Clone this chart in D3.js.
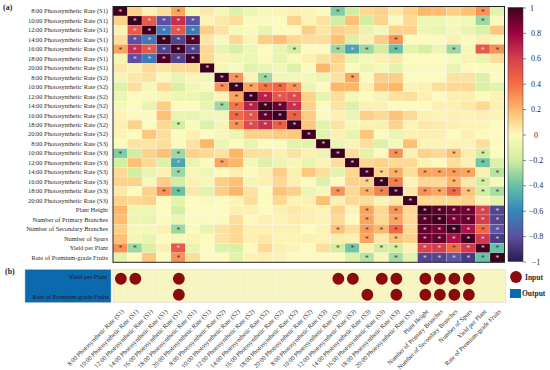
<!DOCTYPE html>
<html>

<head>
  <meta charset="utf-8" />
  <title>Correlation heatmap</title>
  <script src="https://d3js.org/d3.v7.min.js"></script>
  <style>
    body {
      margin: 0;
      background: #fff;
    }

    text {
      font-family: "Liberation Serif", serif;
      fill: #2a2a2a;
    }
  </style>
</head>

<body>
  <svg id="chart" width="550" height="370"></svg>
  <script>
    var traits = [
      "8:00 Photosynthetic Rate (S1)", "10:00 Photosynthetic Rate (S1)", "12:00 Photosynthetic Rate (S1)",
      "14:00 Photosynthetic Rate (S1)", "16:00 Photosynthetic Rate (S1)", "18:00 Photosynthetic Rate (S1)",
      "20:00 Photosynthetic Rate (S1)",
      "8:00 Photosynthetic Rate (S2)", "10:00 Photosynthetic Rate (S2)", "12:00 Photosynthetic Rate (S2)",
      "14:00 Photosynthetic Rate (S2)", "16:00 Photosynthetic Rate (S2)", "18:00 Photosynthetic Rate (S2)",
      "20:00 Photosynthetic Rate (S2)",
      "8:00 Photosynthetic Rate (S3)", "10:00 Photosynthetic Rate (S3)", "12:00 Photosynthetic Rate (S3)",
      "14:00 Photosynthetic Rate (S3)", "16:00 Photosynthetic Rate (S3)", "18:00 Photosynthetic Rate (S3)",
      "20:00 Photosynthetic Rate (S3)",
      "Plant Height", "Number of Primary Branches", "Number of Secondary Branches", "Number of Spurs",
      "Yield per Plant", "Rate of Premium-grade Fruits"
    ];

    // one row per trait
    var corr = [
      [1, .12, .03, .08, .25, -.05, .05, -.05, -.15, -.08, -.03, .02, .03, .02, 0, -.35, -.2, .1, .12, .05, .12, .2, .18, .13, .17, .3, -.12],
      [.12, 1, .48, -.8, .65, -.8, .02, .05, .08, 0, 0, 0, .12, .02, .07, -.2, .17, -.2, .12, 0, .1, -.07, -.07, -.03, -.05, -.3, 0],
      [.03, .48, 1, -.65, .5, -.65, .13, .07, -.04, -.02, -.1, 0, 0, .13, .06, .12, .1, -.1, -.03, .12, .12, -.07, -.1, -.03, -.1, -.17, .15],
      [.08, -.8, -.65, 1, -.85, .96, .06, -.02, .1, .02, .13, .17, .1, .08, .08, .17, -.15, .03, .13, .3, 0, 0, 0, .03, 0, .03, 0],
      [.25, .65, .5, -.85, 1, -.85, .1, -.1, -.17, -.07, 0, -.1, -.2, 0, 0, -.3, -.5, -.3, -.2, -.4, -.12, -.18, -.08, -.3, -.03, .48, .3],
      [-.05, -.8, -.65, .96, -.85, 1, .1, .02, -.05, -.07, 0, -.1, -.02, .03, .07, .12, -.1, -.03, .03, .05, 0, 0, 0, -.02, .02, -.1, .08],
      [.05, .03, .1, .06, .1, .1, 1, -.05, -.02, -.12, -.1, -.05, -.15, 0, .2, .1, 0, -.07, -.03, -.12, -.02, 0, 0, -.1, 0, 0, 0],
      [-.05, .05, .07, -.02, -.1, .02, -.05, 1, .3, .02, -.3, -.05, -.05, -.03, -.08, .07, .25, 0, .13, .13, 0, 0, 0, .07, .07, -.15, 0],
      [-.15, .08, -.04, .1, -.17, -.05, -.02, .3, 1, .25, .38, .42, .3, -.08, 0, .2, .2, .03, .17, .2, .02, .03, .08, .1, .1, -.17, -.12],
      [-.08, 0, -.02, .02, -.07, -.07, -.12, .02, .25, 1, .7, .5, .55, .12, -.1, .08, -.03, 0, -.05, .07, .08, .03, 0, .03, .03, 0, .02],
      [-.03, 0, -.1, .13, 0, 0, -.1, -.3, .38, .7, 1, .92, .65, .12, 0, .07, -.15, .03, .03, 0, 0, 0, .03, .03, .05, .1, .03],
      [.02, 0, 0, .17, -.1, -.1, -.05, -.05, .42, .5, .92, 1, .45, .14, 0, .03, -.08, .13, .1, .16, .1, .03, .02, .03, .02, .03, .02],
      [.03, .12, 0, .1, -.2, -.02, -.15, -.05, .3, .55, .65, .45, 1, .15, -.12, .07, -.03, .03, .03, .12, .02, .05, .04, .03, .02, .02, 0],
      [.02, 0, .15, .08, 0, .03, 0, -.03, -.08, .12, .12, .14, .15, 1, -.12, .03, -.1, .15, 0, -.08, .03, .03, .03, 0, .03, 0, 0],
      [0, .07, .06, .08, 0, .07, .2, -.08, 0, -.1, 0, 0, -.12, -.12, 1, -.08, .02, .08, -.15, -.03, .17, .02, .02, .02, .02, .08, 0],
      [-.35, -.2, .12, .17, -.3, .12, .1, .07, .2, .08, .07, .03, .07, .03, -.08, 1, .08, -.12, 0, .3, .03, .12, .1, .17, .04, -.2, 0],
      [-.2, .17, .1, -.15, -.5, -.1, 0, .25, .2, -.03, -.15, -.08, -.03, -.1, .02, .08, 1, .1, .12, .1, .1, .02, 0, .08, .03, -.38, -.15],
      [.1, -.2, -.1, .03, -.3, -.03, -.07, 0, .03, 0, .03, .13, .03, .15, .08, -.12, .1, 1, .12, .22, .08, .25, .25, .27, .25, .03, -.25],
      [.12, .12, -.03, .13, -.2, .03, -.03, .13, .17, -.05, .03, .1, .03, 0, -.15, 0, .12, .12, 1, .35, .02, .1, .1, .2, .05, -.2, -.03],
      [.05, 0, .12, .3, -.4, .05, -.12, .13, .2, .07, 0, .16, .12, -.08, -.03, .3, .1, .22, .35, 1, .05, .3, .25, .42, .16, -.2, -.28],
      [.12, .1, .12, 0, -.12, 0, -.02, 0, .02, .08, 0, .1, .02, .03, .17, .03, .1, .08, .02, .05, 1, .1, .1, .1, .12, .02, -.12],
      [.2, -.07, -.07, 0, -.18, 0, 0, 0, .03, .03, 0, .03, .05, .03, .02, .12, .02, .25, .1, .3, .1, 1, .95, .92, .9, .58, -.84],
      [.18, -.07, -.1, 0, -.08, 0, 0, 0, .08, 0, .03, .02, .04, .03, .02, .1, 0, .25, .1, .25, .1, .95, 1, .88, .92, .6, -.84],
      [.13, -.03, -.03, .03, -.3, -.02, -.1, .07, .1, .03, .03, .03, .03, 0, .02, .17, .08, .27, .2, .42, .1, .92, .88, 1, .75, .42, -.78],
      [.17, -.05, -.1, 0, -.03, .02, 0, .07, .1, .03, .05, .02, .02, .03, .02, .04, .03, .25, .05, .16, .12, .9, .92, .75, 1, .62, -.88],
      [.3, -.3, -.17, .03, .48, -.1, 0, -.15, -.17, 0, .1, .03, .02, 0, .08, -.2, -.38, .03, -.2, -.2, .02, .58, .6, .42, .62, 1, -.4],
      [-.12, 0, .15, 0, .3, .08, 0, 0, -.12, .02, .03, .02, 0, 0, 0, 0, -.15, -.25, -.03, -.28, -.12, -.84, -.84, -.78, -.88, -.4, 1]
    ];

    // columns holding a star, one list per row
    var stars = [
      [0, 4, 15, 25],
      [1, 2, 3, 4, 5, 25],
      [1, 2, 3, 4, 5],
      [1, 2, 3, 4, 5, 19],
      [0, 1, 2, 3, 4, 5, 12, 15, 16, 17, 19, 23, 25, 26],
      [1, 2, 3, 4, 5],
      [6],
      [7, 8, 10, 16],
      [7, 8, 9, 10, 11, 12],
      [8, 9, 10, 11, 12],
      [7, 8, 9, 10, 11, 12],
      [8, 9, 10, 11, 12],
      [4, 8, 9, 10, 11, 12],
      [13],
      [14],
      [0, 4, 15, 19, 23, 25],
      [4, 7, 16, 25],
      [4, 17, 18, 19, 21, 22, 23, 24, 26],
      [17, 18, 19, 23, 25],
      [3, 4, 15, 17, 18, 19, 21, 22, 23, 24, 25, 26],
      [20],
      [17, 19, 21, 22, 23, 24, 25, 26],
      [17, 19, 21, 22, 23, 24, 25, 26],
      [4, 15, 17, 18, 19, 21, 22, 23, 24, 25, 26],
      [17, 19, 21, 22, 23, 24, 25, 26],
      [0, 1, 4, 15, 16, 18, 19, 21, 22, 23, 24, 25, 26],
      [4, 17, 19, 21, 22, 23, 24, 25, 26]
    ];

    var outputs = ["Yield per Plant", "Rate of Premium-grade Fruits"];
    var yieldInputs = [0, 1, 4, 15, 16, 18, 19, 21, 22, 23, 24];
    var fruitInputs = [4, 17, 19, 21, 22, 23, 24];
    var inputLists = [yieldInputs, fruitInputs];

    var barTicks = [1, 0.8, 0.6, 0.4, 0.2, 0, -0.2, -0.4, -0.6, -0.8, -1];
    var colorStops = [-1, -0.8, -0.6, -0.4, -0.2, 0, 0.2, 0.4, 0.6, 0.8, 1];
    var colorValues = ["#2b1c4e", "#5e4fa2", "#3288bd", "#66c2a5", "#d3eea0", "#fcfabf",
      "#fdb768", "#f46d43", "#d53e4f", "#9e0142", "#3f0020"];

    var svg = d3.select("#chart");
    var color = d3.scaleLinear().domain(colorStops).range(colorValues);

    var idx = d3.range(traits.length);
    var x = d3.scaleBand().domain(idx).range([113, 504.5]);
    var y = d3.scaleBand().domain(idx).range([6.5, 262.3]);

    // heatmap cells
    var rows = svg.append("g").selectAll("g")
      .data(corr)
      .enter().append("g")
      .attr("transform", function (d, i) { return "translate(0," + y(i) + ")"; });

    rows.selectAll("rect")
      .data(function (d) { return d; })
      .enter().append("rect")
      .attr("x", function (d, j) { return x(j); })
      .attr("width", x.bandwidth())
      .attr("height", y.bandwidth())
      .attr("fill", function (d) { return color(d); })
      .attr("stroke", "#fff")
      .attr("stroke-opacity", 0.35)
      .attr("stroke-width", 0.5);

    // significance stars
    stars.forEach(function (cols, i) {
      svg.append("g").selectAll("text")
        .data(cols)
        .enter().append("text")
        .attr("x", function (j) { return x(j) + x.bandwidth() / 2; })
        .attr("y", y(i) + y.bandwidth() / 2 + 3.4)
        .attr("text-anchor", "middle")
        .style("font-size", "7.5px")
        .style("fill", function (j) { return Math.abs(corr[i][j]) > 0.45 ? "#d9d4e2" : "#3a3a3a"; })
        .text("*");
    });

    svg.append("rect")
      .attr("x", x.range()[0])
      .attr("y", y.range()[0])
      .attr("width", x.range()[1] - x.range()[0])
      .attr("height", y.range()[1] - y.range()[0])
      .attr("fill", "none")
      .attr("stroke", "#222")
      .attr("stroke-width", 1);

    // row labels
    var yAxis = d3.axisLeft(y).tickSize(0).tickPadding(5).tickFormat(function (i) { return traits[i]; });
    var yg = svg.append("g").attr("transform", "translate(113,0)").call(yAxis);
    yg.select(".domain").remove();
    yg.selectAll("text").style("font-size", "6.4px").style("font-family", "'Liberation Serif', serif");

    // colorbar
    var barScale = d3.scaleLinear().domain([1, -1]).range([7.5, 261.5]);
    var defs = svg.append("defs");
    var grad = defs.append("linearGradient")
      .attr("id", "bar")
      .attr("x1", 0).attr("x2", 0).attr("y1", 0).attr("y2", 1);
    grad.selectAll("stop")
      .data(colorStops.slice().reverse())
      .enter().append("stop")
      .attr("offset", function (d) { return (1 - d) / 2; })
      .attr("stop-color", function (d) { return color(d); });

    svg.append("rect")
      .attr("x", 508)
      .attr("y", barScale(1))
      .attr("width", 15)
      .attr("height", barScale(-1) - barScale(1))
      .attr("fill", "url(#bar)")
      .attr("stroke", "#333")
      .attr("stroke-width", 0.5);

    var barAxis = d3.axisRight(barScale)
      .tickValues(barTicks)
      .tickSize(3)
      .tickPadding(0)
      .tickFormat(function (d) { return String(d).replace("-", "\u2212"); });
    var bg = svg.append("g").attr("transform", "translate(523,0)").call(barAxis);
    bg.select(".domain").remove();
    bg.selectAll("line").attr("stroke", "#333").attr("stroke-width", 0.6);
    bg.selectAll("text")
      .attr("x", function (d) { return d == 1 ? 9 : 13; })
      .attr("text-anchor", "middle")
      .style("font-size", "8px")
      .style("font-family", "'Liberation Serif', serif");

    // panel (b)
    var y2 = d3.scaleBand().domain(d3.range(outputs.length)).range([269.5, 302.5]);

    svg.append("rect")
      .attr("x", 25).attr("y", y2.range()[0])
      .attr("width", 86).attr("height", y2.range()[1] - y2.range()[0])
      .attr("fill", "#0b69ad")
      .attr("stroke", "#bbb")
      .attr("stroke-width", 0.5);

    svg.append("g").selectAll("text")
      .data(outputs)
      .enter().append("text")
      .attr("x", function (d, i) { return i == 0 ? 107 : 109; })
      .attr("y", function (d, i) { return y2(i) + y2.bandwidth() / 2 + (i == 0 ? 1.5 : 4.5); })
      .attr("text-anchor", "end")
      .style("font-size", "6.4px")
      .style("fill", "#1a1a2e")
      .text(function (d) { return d; });

    svg.append("rect")
      .attr("x", 113).attr("y", y2.range()[0])
      .attr("width", 393).attr("height", y2.range()[1] - y2.range()[0])
      .attr("fill", "#f7f6c3")
      .attr("stroke", "#ddd")
      .attr("stroke-width", 0.6);

    // faint grid in panel (b)
    svg.append("g").selectAll("line")
      .data(idx.slice(1))
      .enter().append("line")
      .attr("x1", function (d) { return x(d); })
      .attr("x2", function (d) { return x(d); })
      .attr("y1", y2.range()[0])
      .attr("y2", y2.range()[1])
      .attr("stroke", "#efefc0")
      .attr("stroke-width", 0.5);

    inputLists.forEach(function (cols, i) {
      svg.append("g").selectAll("circle")
        .data(cols)
        .enter().append("circle")
        .attr("cx", function (j) { return x(j) + x.bandwidth() / 2 + 0.6; })
        .attr("cy", y2(i) + y2.bandwidth() / 2 + (i == 0 ? 1 : 0.5))
        .attr("r", 5.9)
        .attr("fill", "#8b0a0c");
    });

    // slanted bottom labels
    var xAxis = d3.axisBottom(x).tickSize(0).tickPadding(0).tickFormat(function (i) { return traits[i]; });
    var xg = svg.append("g").attr("transform", "translate(0,309)").call(xAxis);
    xg.select(".domain").remove();
    xg.selectAll("text")
      .attr("text-anchor", "end")
      .attr("dy", 0)
      .attr("y", 0)
      .attr("transform", "translate(4,3) rotate(-45)")
      .style("font-size", "6.4px")
      .style("font-family", "'Liberation Serif', serif");

    // legend
    svg.append("circle").attr("cx", 516).attr("cy", 277).attr("r", 5.9).attr("fill", "#8b0a0c");
    svg.append("text").attr("x", 525).attr("y", 280).style("font-size", "7.5px").style("font-weight", "bold").text("Input");
    svg.append("rect").attr("x", 510).attr("y", 289).attr("width", 11).attr("height", 9).attr("fill", "#0b69ad");
    svg.append("text").attr("x", 522).attr("y", 296).style("font-size", "7.5px").style("font-weight", "bold").text("Output");

    // panel letters
    svg.append("text").attr("x", 3).attr("y", 10).style("font-size", "8px").style("font-weight", "bold").text("(a)");
    svg.append("text").attr("x", 5).attr("y", 274).style("font-size", "8px").style("font-weight", "bold").text("(b)");
  </script>
</body>

</html>
